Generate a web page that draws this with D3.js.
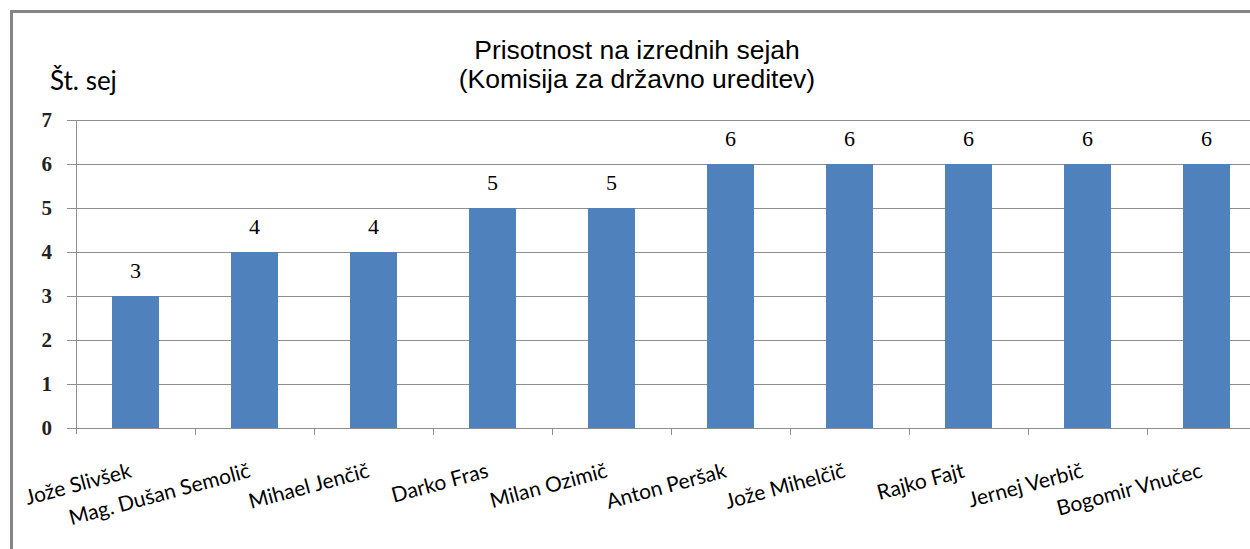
<!DOCTYPE html>
<html>
<head>
<meta charset="utf-8">
<script src="https://cdn.jsdelivr.net/npm/d3@7"></script>
<style>
  html, body { margin: 0; padding: 0; background: #fff; }
  svg { display: block; }
</style>
</head>
<body>
<svg id="chart" width="1250" height="549"></svg>
<script>
// podatki
const names = ['Jože Slivšek', 'Mag. Dušan Semolič', 'Mihael Jenčič', 'Darko Fras', 'Milan Ozimič',
  'Anton Peršak', 'Jože Mihelčič', 'Rajko Fajt', 'Jernej Verbič', 'Bogomir Vnučec']
const sessions = [3, 4, 4, 5, 5, 6, 6, 6, 6, 6]
const yTicks = [0, 1, 2, 3, 4, 5, 6, 7]
const titleLines = ['Prisotnost na izrednih sejah', '(Komisija za državno ureditev)']
const yTitle = 'Št. sej'

const svg = d3.select('#chart')

// okvir (desno in spodaj odrezan)
svg.append('rect')
  .attr('x', 11.5).attr('y', 11.5)
  .attr('width', 1400).attr('height', 700)
  .attr('fill', '#fff')
  .attr('stroke', '#858585')
  .attr('stroke-width', 3)

const x = d3.scaleBand()
  .domain(names)
  .range([76, 1266])
  .paddingInner(0.605)
  .paddingOuter(0.3025)
const xStep = x.step()

const y = d3.scaleLinear()
  .domain([0, 7])
  .range([428, 120])

const g = svg.append('g')

// mreža
g.append('g')
  .selectAll('line')
  .data(yTicks)
  .enter()
  .append('line')
  .attr('x1', 67).attr('x2', 1300)
  .attr('y1', d => Math.round(y(d)) + 0.5)
  .attr('y2', d => Math.round(y(d)) + 0.5)
  .attr('stroke', '#8e8e8e')
  .attr('stroke-width', 1)

// stolpci
g.append('g')
  .selectAll('rect')
  .data(sessions)
  .enter()
  .append('rect')
  .attr('x', (d, i) => x(names[i]))
  .attr('width', x.bandwidth())
  .attr('y', d => y(d))
  .attr('height', d => y(0) - y(d))
  .attr('fill', '#4f81bd')

// oznake vrednosti
g.append('g')
  .selectAll('text')
  .data(sessions)
  .enter()
  .append('text')
  .attr('x', (d, i) => x(names[i]) + x.bandwidth() / 2)
  .attr('y', d => y(d) - 18)
  .attr('text-anchor', 'middle')
  .attr('font-family', 'Liberation Serif, serif')
  .attr('font-size', 22)
  .attr('fill', '#000')
  .text(d => d)

// os y
g.append('line')
  .attr('x1', 76.5).attr('x2', 76.5)
  .attr('y1', 120).attr('y2', 434)
  .attr('stroke', '#8e8e8e')

g.append('g')
  .selectAll('text')
  .data(yTicks)
  .enter()
  .append('text')
  .attr('x', 52)
  .attr('y', d => y(d) + 7)
  .attr('text-anchor', 'end')
  .attr('font-family', 'Liberation Serif, serif')
  .attr('font-weight', 'bold')
  .attr('font-size', 21)
  .attr('fill', '#222')
  .text(d => d)

// os x: zareze med kategorijami
g.append('g')
  .selectAll('line')
  .data(names)
  .enter()
  .append('line')
  .attr('x1', d => Math.round(x(d) - x.paddingOuter() * xStep + xStep) + 0.5)
  .attr('x2', d => Math.round(x(d) - x.paddingOuter() * xStep + xStep) + 0.5)
  .attr('y1', 428).attr('y2', 435)
  .attr('stroke', '#8e8e8e')

g.append('g')
  .selectAll('text')
  .data(names)
  .enter()
  .append('text')
  .attr('transform', d => 'translate(' + (x(d) + x.bandwidth() / 2 - 3) + ',477) rotate(-15)')
  .attr('text-anchor', 'end')
  .attr('font-family', 'Lato, sans-serif')
  .attr('font-size', 21)
  .attr('fill', '#000')
  .text(d => d)

// naslov
svg.append('text')
  .attr('x', 637)
  .attr('text-anchor', 'middle')
  .attr('font-family', 'Liberation Sans, Arial, sans-serif')
  .attr('font-size', 26.5)
  .attr('fill', '#000')
  .selectAll('tspan')
  .data(titleLines)
  .enter()
  .append('tspan')
  .attr('x', 637)
  .attr('y', (d, i) => 59 + i * 29)
  .text(d => d)

svg.append('text')
  .attr('x', 50)
  .attr('y', 90)
  .attr('font-family', 'Lato, sans-serif')
  .attr('font-size', 26)
  .attr('fill', '#000')
  .text(yTitle)
</script>
</body>
</html>
